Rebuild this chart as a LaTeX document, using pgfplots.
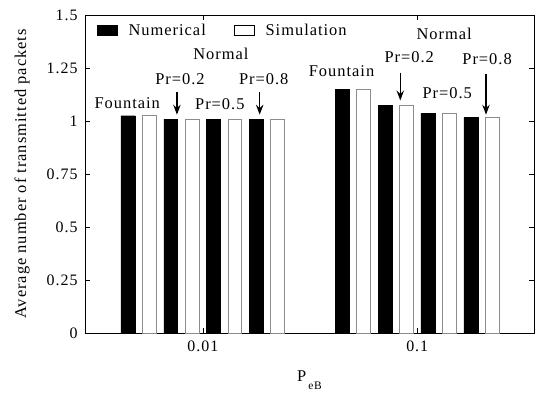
\documentclass[border=0pt]{standalone}
\usepackage{fontspec}
\setmainfont{Liberation Serif}[LetterSpace=6]
\usepackage{pgfplots}
\pgfplotsset{compat=1.18}
\usetikzlibrary{arrows.meta}

\newcommand\fs{\fontsize{16.5}{19}\selectfont}
\newcommand\ft{\fontsize{16}{19}\selectfont}
\newcommand\fss{\fontsize{11.5}{13}\selectfont}

\begin{document}
\begin{tikzpicture}[x=1bp,y=1bp]
\useasboundingbox (0,0) rectangle (536,392);
\begin{axis}[
  at={(85bp,59bp)}, anchor=south west,
  scale only axis, width=449bp, height=318bp,
  xmin=-0.55, xmax=1.545, ymin=0, ymax=1.5,
  xtick={0,1}, xticklabels={0.01,0.1},
  ytick={0,0.25,0.5,0.75,1,1.25,1.5},
  yticklabels={0,0.25,0.5,0.75,1,1.25,1.5},
  tick align=inside, major tick length=5bp,
  tick style={black, line width=0.6bp},
  axis line style={line width=0.9bp},
  /pgf/number format/assume math mode=true,
  tick label style={font=\ft},
  yticklabel style={xshift=-4bp},
  xticklabel style={yshift=-4bp},
  label style={font=\fs},
  ylabel={Average number of transmitted packets},
  xlabel={P\hspace{2bp}\raisebox{-8.5bp}{\fss eB}},
  ylabel style={at={(axis description cs:-0.140,0.5)}, anchor=center},
  xlabel style={at={(axis description cs:0.5,-0.151)}, anchor=base},
  clip=false,
  legend style={at={(0.02,0.985)}, anchor=north west, draw=none, fill=none,
    legend columns=2, font=\fs,
    /tikz/every even column/.append style={column sep=26bp}},
  legend image code/.code={\draw[#1] (0bp,-5bp) rectangle (20bp,5bp);},
]
\addlegendimage{fill=black, draw=black}
\addlegendentry{\hspace{9bp}Numerical}
\addlegendimage{fill=white, draw=black, line width=0.8bp}
\addlegendentry{\hspace{9bp}Simulation}

% Numerical results (black bars)
\addplot[ybar, bar width=0.065, bar shift=0pt, fill=black, draw=black]
  coordinates {(-0.35,1.025) (-0.15,1.009) (0.05,1.007) (0.25,1.007)
               (0.65,1.149) (0.85,1.075) (1.05,1.036) (1.25,1.017)};
% Simulation results (white bars)
\addplot[ybar, bar width=0.065, bar shift=0pt, fill=white, draw=gray!90, line width=1bp]
  coordinates {(-0.25,1.025) (-0.05,1.008) (0.15,1.008) (0.35,1.008)
               (0.75,1.149) (0.95,1.073) (1.15,1.036) (1.35,1.017)};

% annotations, P_eB = 0.01
\node[font=\fs] at (axis cs:-0.353,1.085) {Fountain};
\node[font=\fs] at (axis cs:-0.107,1.198) {Pr=0.2};
\node[font=\fs] at (axis cs:0.084,1.316) {Normal};
\node[font=\fs] at (axis cs:0.079,1.080) {Pr=0.5};
\node[font=\fs] at (axis cs:0.284,1.198) {Pr=0.8};
\draw[line width=1.3bp, -{Stealth[length=10bp,width=7.5bp,inset=3.5bp]}]
  (axis cs:-0.121,1.135) -- (axis cs:-0.121,1.030);
\draw[line width=1.3bp, -{Stealth[length=10bp,width=7.5bp,inset=3.5bp]}]
  (axis cs:0.265,1.135) -- (axis cs:0.265,1.030);

% annotations, P_eB = 0.1
\node[font=\fs] at (axis cs:0.647,1.236) {Fountain};
\node[font=\fs] at (axis cs:0.963,1.302) {Pr=0.2};
\node[font=\fs] at (axis cs:1.126,1.410) {Normal};
\node[font=\fs] at (axis cs:1.140,1.132) {Pr=0.5};
\node[font=\fs] at (axis cs:1.326,1.292) {Pr=0.8};
\draw[line width=1.3bp, -{Stealth[length=10bp,width=7.5bp,inset=3.5bp]}]
  (axis cs:0.921,1.228) -- (axis cs:0.921,1.097);
\draw[line width=1.3bp, -{Stealth[length=10bp,width=7.5bp,inset=3.5bp]}]
  (axis cs:1.321,1.222) -- (axis cs:1.321,1.030);
\end{axis}
\end{tikzpicture}
\end{document}
